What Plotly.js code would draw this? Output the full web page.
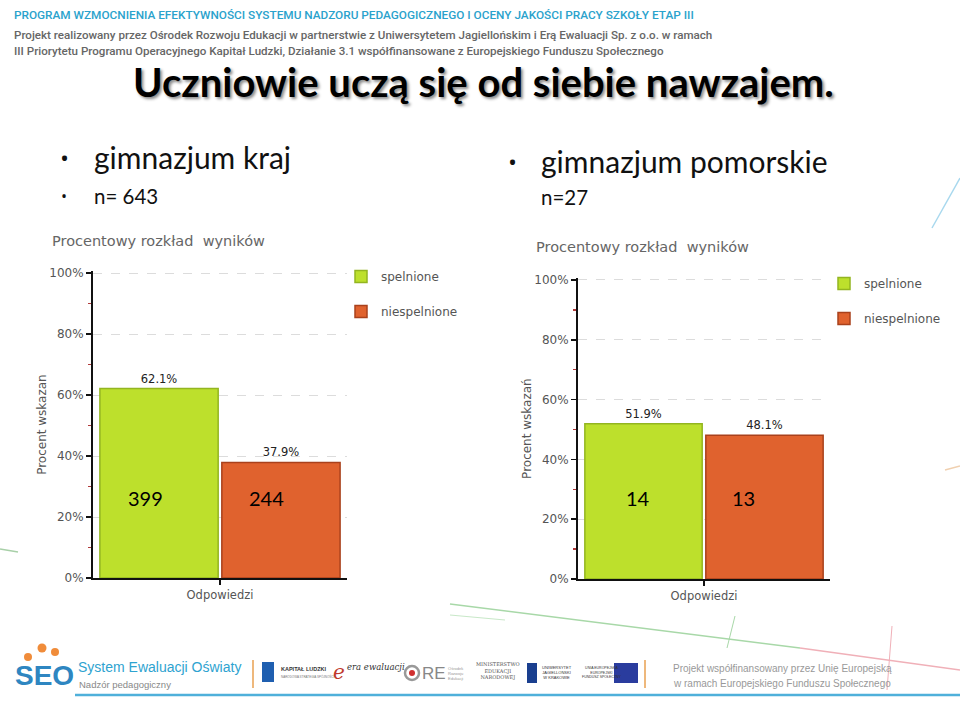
<!DOCTYPE html>
<html>
<head>
<meta charset="utf-8">
<script src="https://cdn.plot.ly/plotly-3.0.1.min.js"></script>
<style>html,body{margin:0;padding:0;background:#fff;}#chart{width:960px;height:703px;}</style>
</head>
<body>
<div id="chart"></div>
<script>
// ---- data ----
const seriesNames = ['spelnione', 'niespelnione'];
const category = ['Odpowiedzi'];
const krajPercent = [62.1, 37.9];
const krajCounts = [399, 244];
const pomorskiePercent = [51.9, 48.1];
const pomorskieCounts = [14, 13];
const yTickVals = [0, 20, 40, 60, 80, 100];
const yTickText = ['0%', '20%', '40%', '60%', '80%', '100%'];
const chartTitle = 'Procentowy rozkład  wyników';
const yTitle1 = 'Procent wskazan';
const yTitle2 = 'Procent wskazań';

const fillColors = ['#bde02c', '#e0622e'];
const lineColors = ['#93b520', '#a9411c'];

const W = 960, H = 703;
const px = x => x / W;
const py = y => 1 - y / H;
const YMAX = 100.6;

function bars(percent, xa, ya, lg) {
  return seriesNames.map((name, i) => ({
    type: 'bar', name: name, x: category, y: [percent[i]],
    xaxis: xa, yaxis: ya, legend: lg, legendgroup: lg + name, showlegend: true,
    marker: {color: fillColors[i], line: {color: lineColors[i], width: 1.5}},
    text: [percent[i].toFixed(1) + '%'], textposition: 'outside',
    textfont: {family: 'DejaVu Sans', size: 11.5, color: '#222'},
    cliponaxis: false, hoverinfo: 'skip'
  }));
}

const data = [
  ...bars(krajPercent, 'x', 'y', 'legend'),
  ...bars(pomorskiePercent, 'x2', 'y2', 'legend2')
];

function yax(y0, y100, title, anchor) {
  const ytop = y0 - (y0 - y100) * YMAX / 100;
  return {
    domain: [py(y0), py(ytop)], range: [0, YMAX], anchor: anchor,
    tickvals: yTickVals, ticktext: yTickText,
    showline: true, linecolor: '#111', linewidth: 2,
    ticks: 'outside', ticklen: 5, tickcolor: '#111', tickwidth: 1.5,
    minor: {tickvals: [10, 30, 50, 70, 90], ticks: 'outside', ticklen: 3, tickcolor: '#b03a3a', showgrid: false},
    showgrid: true, gridcolor: '#dcdcdc', griddash: 'dash', gridwidth: 1,
    zeroline: false,
    tickfont: {family: 'DejaVu Sans', size: 12, color: '#555'},
    title: {text: title, font: {family: 'DejaVu Sans', size: 12, color: '#555'}, standoff: 0},
    fixedrange: true
  };
}
function xax(x0, x1, anchor) {
  return {
    domain: [px(x0), px(x1)], anchor: anchor, showline: true, linecolor: '#111', linewidth: 2,
    ticks: 'outside', ticklen: 5, tickcolor: '#111', tickwidth: 1.5,
    tickfont: {family: 'DejaVu Sans', size: 11.5, color: '#555'},
    showgrid: false, fixedrange: true
  };
}

const legendCommon = {
  font: {family: 'DejaVu Sans', size: 12, color: '#555'},
  bgcolor: 'rgba(0,0,0,0)', traceorder: 'grouped', tracegroupgap: 16,
  xanchor: 'left', yanchor: 'top', itemwidth: 30
};

const annotations = [];
function addText(text, x, y, font, opts) {
  annotations.push(Object.assign({
    text: text, x: px(x), y: py(y), xref: 'paper', yref: 'paper',
    showarrow: false, xanchor: 'left', yanchor: 'middle', font: font
  }, opts || {}));
}
const C = {xanchor: 'center'};
// header
addText('PROGRAM WZMOCNIENIA EFEKTYWNOŚCI SYSTEMU NADZORU PEDAGOGICZNEGO I OCENY JAKOŚCI PRACY SZKOŁY ETAP III', 12, 15,
  {family: 'Roboto', size: 11.8, color: '#2aa2cc', weight: 500});
addText('Projekt realizowany przez Ośrodek Rozwoju Edukacji w partnerstwie z Uniwersytetem Jagiellońskim i Erą Ewaluacji Sp. z o.o. w ramach', 12, 35,
  {family: 'Roboto', size: 11.6, color: '#666', weight: 500});
addText('III Priorytetu Programu Operacyjnego Kapitał Ludzki, Działanie 3.1 współfinansowane z Europejskiego Funduszu Społecznego', 12, 51,
  {family: 'Roboto', size: 11.6, color: '#666', weight: 500});
// main title
addText('Uczniowie uczą się od siebie nawzajem.', 483, 82,
  {family: 'Lato', size: 40, color: '#000', weight: 700, shadow: '2px 2px 3px #8a8a8a'}, C);
// bullets
addText('•', 58, 158, {family: 'Open Sans', size: 24, color: '#111'});
addText('gimnazjum kraj', 92, 157, {family: 'Lato', size: 30, color: '#111'});
addText('•', 59, 196, {family: 'Open Sans', size: 16, color: '#111'});
addText('n= 643', 92, 196, {family: 'Lato', size: 20.5, color: '#111'});
addText('•', 506, 162, {family: 'Open Sans', size: 24, color: '#111'});
addText('gimnazjum pomorskie', 539, 161, {family: 'Lato', size: 30, color: '#111'});
addText('n=27', 539, 197, {family: 'Lato', size: 20.5, color: '#111'});
// chart titles
addText(chartTitle, 50, 241, {family: 'DejaVu Sans', size: 14.5, color: '#666'});
addText(chartTitle, 534, 247, {family: 'DejaVu Sans', size: 14.5, color: '#666'});
// counts inside bars
const cntFont = {family: 'Lato', size: 20, color: '#000'};
addText(String(krajCounts[0]), 145, 498, cntFont, C);
addText(String(krajCounts[1]), 266, 498, cntFont, C);
addText(String(pomorskieCounts[0]), 638, 498, cntFont, C);
addText(String(pomorskieCounts[1]), 743, 498, cntFont, C);
// footer texts
addText('SEO', 44, 675, {family: 'Liberation Sans', size: 28, color: '#2e86c1', weight: 700}, C);
addText('System Ewaluacji Oświaty', 76, 667, {family: 'Liberation Sans', size: 14, color: '#2ea3d0'});
addText('Nadzór pedagogiczny', 77, 684, {family: 'Liberation Sans', size: 9.5, color: '#888'});
addText('KAPITAŁ LUDZKI', 279, 669, {family: 'Liberation Sans', size: 5.5, color: '#333', weight: 700});
addText('NARODOWA STRATEGIA SPÓJNOŚCI', 279, 676, {family: 'Liberation Sans', size: 3, color: '#777'});
addText('e', 331, 672, {family: 'DejaVu Serif', size: 20, color: '#c0392b', style: 'italic'});
addText('era ewaluacji', 345, 667, {family: 'DejaVu Serif', size: 8.5, color: '#333', style: 'italic'});
addText('RE', 420, 673, {family: 'Liberation Sans', size: 17, color: '#888'});
addText('Ośrodek<br>Rozwoju<br>Edukacji', 446, 673, {family: 'Liberation Sans', size: 4, color: '#999'});
addText('MINISTERSTWO<br>EDUKACJI<br>NARODOWEJ', 474, 671, {family: 'DejaVu Serif', size: 5, color: '#555'});
addText('UNIWERSYTET<br>JAGIELLOŃSKI<br>W KRAKOWIE', 540, 672, {family: 'Liberation Sans', size: 4, color: '#333'});
addText('UNIA EUROPEJSKA<br>EUROPEJSKI<br>FUNDUSZ SPOŁECZNY', 580, 672, {family: 'Liberation Sans', size: 3.5, color: '#333'});
addText('Projekt współfinansowany przez Unię Europejską', 671, 668, {family: 'Liberation Sans', size: 10, color: '#999'});
addText('w ramach Europejskiego Funduszu Społecznego', 671, 683, {family: 'Liberation Sans', size: 10, color: '#999'});

function line(x0, y0, x1, y1, color, width) {
  return {type: 'line', xref: 'paper', yref: 'paper', x0: px(x0), y0: py(y0), x1: px(x1), y1: py(y1),
    line: {color: color, width: width || 1.5}, layer: 'below'};
}
function rect(x0, y0, x1, y1, fill) {
  return {type: 'rect', xref: 'paper', yref: 'paper', x0: px(x0), y0: py(y0), x1: px(x1), y1: py(y1),
    fillcolor: fill, line: {width: 0}};
}
function circle(cx, cy, r, fill, lineColor) {
  return {type: 'circle', xref: 'paper', yref: 'paper', x0: px(cx - r), y0: py(cy + r), x1: px(cx + r), y1: py(cy - r),
    fillcolor: fill, line: lineColor ? {color: lineColor, width: 2.5} : {width: 0}};
}
const shapes = [
  // decorative lines
  line(450, 604, 800, 648, '#a8d8a8', 1.5),
  line(800, 648, 960, 670, '#f0b0b8', 1.5),
  line(450, 615, 505, 620, '#c8e8c8', 1),
  line(0, 549, 18, 552, '#a8d0a8', 1.5),
  line(735, 616, 727, 648, '#a8d8a8', 1),
  line(892, 626, 887, 690, '#f0b0b8', 1),
  line(932, 228, 960, 178, '#a8d8ee', 1.5),
  line(945, 470, 960, 466, '#f0d0b0', 1.5),
  // footer bar line
  line(75, 695, 960, 695, '#4fb0da', 2.5),
  // separators
  line(253, 660, 253, 688, '#e8a050', 1.5),
  line(645, 660, 645, 688, '#e8a050', 1.5),
  // SEO dots
  circle(28, 657, 4, '#f08c3a'),
  circle(42, 648, 4.5, '#f08c3a'),
  circle(55, 652, 4, '#f08c3a'),
  // small logos
  rect(262, 662, 274, 682, '#1f5fb0'),
  circle(412, 673, 7, 'rgba(0,0,0,0)', '#999'),
  circle(412, 673, 3, '#d03030'),
  rect(527, 663, 537, 683, '#1a3f8f'),
  rect(614, 663, 638, 683, '#2a3c9e'),
];

const layout = {
  width: W, height: H, margin: {l: 0, r: 0, t: 0, b: 0},
  paper_bgcolor: '#ffffff', plot_bgcolor: 'rgba(0,0,0,0)',
  barmode: 'group', bargap: 0.04, bargroupgap: 0.03,
  showlegend: true,
  xaxis: xax(93, 347, 'y'),
  yaxis: yax(578, 273, yTitle1, 'x'),
  xaxis2: xax(578, 830, 'y2'),
  yaxis2: yax(579, 280, yTitle2, 'x2'),
  legend: Object.assign({x: px(341), y: py(262)}, legendCommon),
  legend2: Object.assign({x: px(824), y: py(269)}, legendCommon),
  annotations: annotations,
  shapes: shapes,
  font: {family: 'DejaVu Sans'}
};

Plotly.newPlot('chart', data, layout, {staticPlot: true, displayModeBar: false});
</script>
</body>
</html>
